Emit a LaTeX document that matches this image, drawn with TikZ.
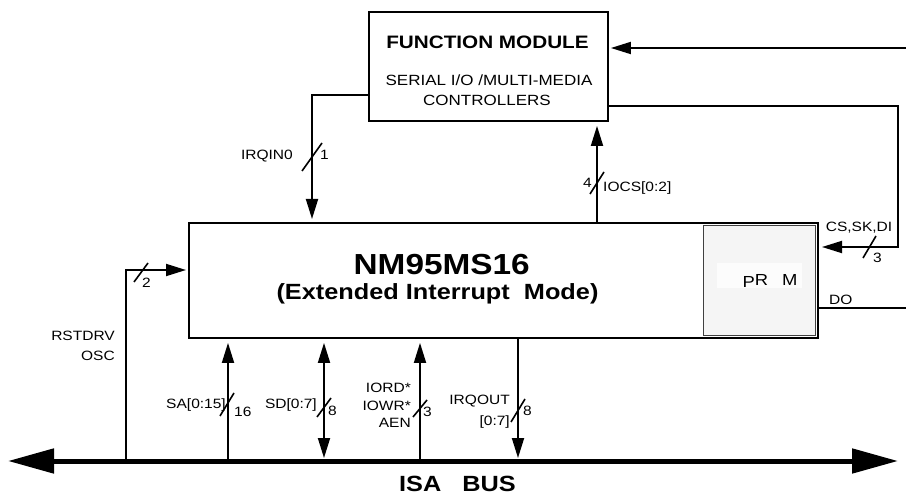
\documentclass[tikz,border=0pt]{standalone}
\usepackage{fontspec}
\setmainfont[FakeStretch=1.15]{Liberation Sans}
\usetikzlibrary{arrows.meta}
\begin{document}
\begin{tikzpicture}[x=1pt,y=-1pt,
  ln/.style={line width=1.8pt},
  tip/.style={-{Triangle[length=20pt,width=12pt]}},
  tipboth/.style={{Triangle[length=20pt,width=12pt]}-{Triangle[length=20pt,width=12pt]}},
  slash/.style={line width=1.6pt},
  lbl/.style={inner sep=0pt,font=\fontsize{13.5}{15}\selectfont},
  box/.style={draw,line width=1.8pt,inner sep=0pt}]
\useasboundingbox (0,0) rectangle (906,497);

% boxes
\node[box,minimum width=239pt,minimum height=109pt] (fm) at (488.5,66.5) {};
\node[box,minimum width=629pt,minimum height=115pt] (main) at (503.5,280.5) {};
\node[draw=black!75,line width=0.9pt,fill=black!4,minimum width=112pt,minimum height=110pt,inner sep=0pt] (prom) at (759,280) {};
\fill[black!1] (717,263) rectangle (802,288);

% box texts
\node[anchor=base,inner sep=0pt,font=\bfseries\fontsize{18}{20}\selectfont] (fmt) at (487.5,48.3) {FUNCTION MODULE};
\node[anchor=base,inner sep=0pt,font=\fontsize{14.8}{17}\selectfont] (fms1) at (489,86) {SERIAL I/O /MULTI-MEDIA};
\node[anchor=base,inner sep=0pt,font=\fontsize{14.8}{17}\selectfont] (fms2) at (487,106) {CONTROLLERS};
\node[anchor=base,inner sep=0pt,font=\bfseries\fontsize{29}{31}\selectfont] (mt) at (441.7,275) {NM95MS16};
\node[anchor=base,inner sep=0pt,font=\bfseries\fontsize{22}{24}\selectfont] (mt2) at (437.5,300) {(Extended Interrupt\ \ Mode)};
\node[anchor=base,inner sep=0pt,font=\fontsize{16}{18}\selectfont] (pt) at (770,286) {\raisebox{-2pt}{P}R\hspace{14pt}M};
\node[anchor=base,inner sep=0pt,font=\bfseries\fontsize{22}{24}\selectfont] (isa) at (457.5,491.7) {ISA\hspace{21pt}BUS};

% bus
\coordinate (busL) at (8,461);
\coordinate (busR) at (898,461);
\draw[line width=5pt,{Triangle[length=46pt,width=24pt]}-{Triangle[length=46pt,width=24pt]}] (busL) -- (busR);

% RSTDRV / OSC
\coordinate (bRST) at (126,461);
\coordinate (rstIn) at (186,270);
\draw[ln,tip] (bRST) |- (rstIn);
\draw[slash] (134,282) -- (148,263);
\node[lbl,anchor=base west] (n2) at (142,288) {2};
\node[lbl,anchor=base east] (rst) at (115,341) {RSTDRV};
\node[lbl,anchor=base east] (osc) at (115,360) {OSC};

% SA
\coordinate (bSA) at (228,461);
\draw[ln,tip] (bSA) -- ([yshift=-4pt]bSA |- main.south);
\draw[slash] (220,416) -- (234,393);
\node[lbl,anchor=base east] (sa) at (226,409) {SA[0:15]};
\node[lbl,anchor=base west] (n16) at (234,417) {16};

% SD
\coordinate (bSD) at (324,461);
\draw[ln,tipboth] ([yshift=3pt]bSD) -- ([yshift=-4pt]bSD |- main.south);
\draw[slash] (317,417) -- (331,398);
\node[lbl,anchor=base east] (sd) at (317,409) {SD[0:7]};
\node[lbl,anchor=base west] (n8a) at (328,415) {8};

% IORD IOWR AEN
\coordinate (bIO) at (420,461);
\draw[ln,tip] (bIO) -- ([yshift=-4pt]bIO |- main.south);
\draw[slash] (413,417) -- (427,400);
\node[lbl,anchor=base east] (iord) at (411,392) {IORD*};
\node[lbl,anchor=base east] (iowr) at (411,410) {IOWR*};
\node[lbl,anchor=base east] (aen) at (411,427) {AEN};
\node[lbl,anchor=base west] (n3a) at (423,417) {3};

% IRQOUT
\coordinate (bIRQ) at (518,461);
\draw[ln,tip] (bIRQ |- main.south) -- ([yshift=3pt]bIRQ);
\draw[slash] (511,422) -- (525,399);
\node[lbl,anchor=base east] (irqo) at (510,405) {IRQOUT};
\node[lbl,anchor=base east] (irqo2) at (510,425) {[0:7]};
\node[lbl,anchor=base west] (n8b) at (523,415) {8};

% IRQIN0
\coordinate (irqC) at (312,95);
\coordinate (irqEnd) at (312,219);
\draw[ln,tip] (fm.west |- irqC) -- (irqC) -- (irqEnd);
\draw[slash] (302,171) -- (322,143);
\node[lbl,anchor=base east] (irqin) at (293,160) {IRQIN0};
\node[lbl,anchor=base west] (n1) at (320,160) {1};

% IOCS
\coordinate (iocsX) at (597,0);
\draw[ln,tip] (main.north -| iocsX) -- ([yshift=-4pt]iocsX |- fm.south);
\draw[slash] (590,194) -- (604,172);
\node[lbl,anchor=base east] (n4) at (592,188) {4};
\node[lbl,anchor=base west] (iocs) at (603,192) {IOCS[0:2]};

% CS,SK,DI loop
\coordinate (csR) at (898,106);
\coordinate (csC) at (898,247);
\coordinate (csEnd) at (822,247);
\draw[ln,tip] (fm.east |- csR) -- (csR) -- (csC) -- (csEnd);
\draw[slash] (863,258) -- (876,236);
\node[lbl,anchor=base] (cs) at (859,232) {CS,SK,DI};
\node[lbl,anchor=base west] (n3b) at (873,263) {3};

% top input
\coordinate (topR) at (906,48);
\draw[ln,tip] (topR) -- ([xshift=2pt]fm.east |- topR);

% DO
\coordinate (doR) at (906,308);
\draw[ln] (main.east |- doR) -- (doR);
\node[lbl,anchor=base west] (do) at (829,305) {DO};
\end{tikzpicture}
\end{document}
